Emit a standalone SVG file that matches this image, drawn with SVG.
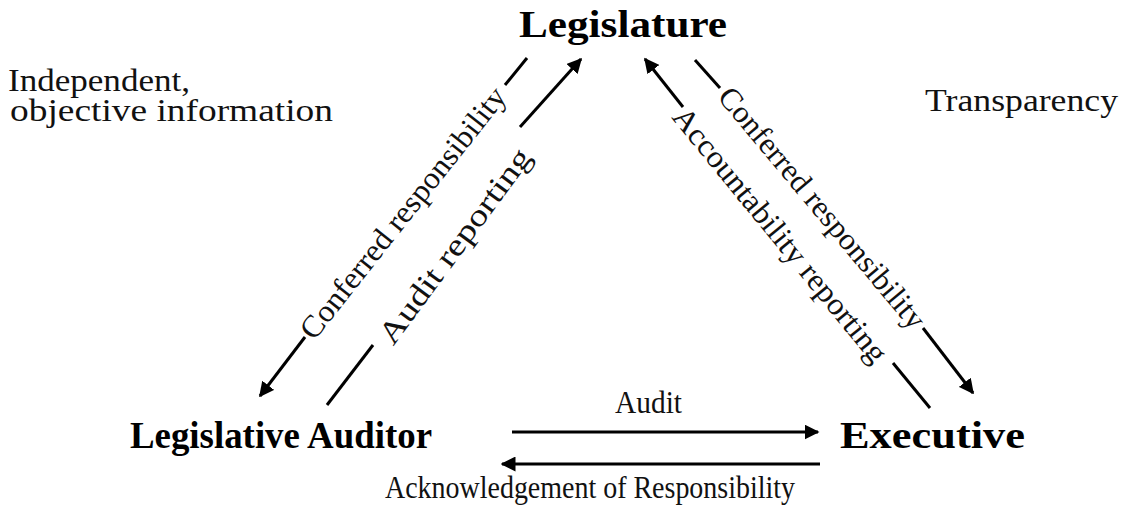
<svg xmlns="http://www.w3.org/2000/svg" width="1124" height="511" viewBox="0 0 1124 511">
<style>
.t{font-family:"Liberation Serif","Times New Roman",serif;font-size:31px;fill:#111}
.b{font-family:"Liberation Serif","Times New Roman",serif;font-size:37px;font-weight:bold;fill:#000}
.ln{stroke:#000;stroke-width:3;fill:none}
</style>
<defs>
<marker id="ah" viewBox="0 0 10 10" refX="9" refY="5" markerWidth="5" markerHeight="5" orient="auto" markerUnits="strokeWidth">
<path d="M0,0 L10,5 L0,10 z" fill="#000"/>
</marker>
</defs>
<rect width="1124" height="511" fill="#fff"/>
<g id="legislature"><text class="b" x="519" y="37" textLength="208" lengthAdjust="spacingAndGlyphs">Legislature</text></g>
<g id="legislative-auditor"><text class="b" x="130" y="448" textLength="302" lengthAdjust="spacingAndGlyphs">Legislative Auditor</text></g>
<g id="executive"><text class="b" x="840" y="448" textLength="185" lengthAdjust="spacingAndGlyphs">Executive</text></g>
<g id="note-independent">
<text class="t" x="8" y="91" textLength="182" lengthAdjust="spacingAndGlyphs">Independent,</text>
<text class="t" x="10" y="121" textLength="323" lengthAdjust="spacingAndGlyphs">objective information</text>
</g>
<g id="note-transparency"><text class="t" x="925" y="111" textLength="193" lengthAdjust="spacingAndGlyphs">Transparency</text></g>
<g id="connectors">
<line class="ln" x1="527" y1="58" x2="505" y2="85"/>
<line class="ln" x1="305" y1="337" x2="260" y2="396" marker-end="url(#ah)"/>
<text class="t" transform="translate(403,213) rotate(-51.6)" x="0" y="10" text-anchor="middle" textLength="312" lengthAdjust="spacingAndGlyphs">Conferred responsibility</text>
<line class="ln" x1="327" y1="405" x2="373" y2="345"/>
<line class="ln" x1="520" y1="127" x2="581" y2="59" marker-end="url(#ah)"/>
<text class="t" transform="translate(455,246) rotate(-53.6)" x="0" y="10" text-anchor="middle" textLength="235" lengthAdjust="spacingAndGlyphs">Audit reporting</text>
<line class="ln" x1="930" y1="408" x2="893" y2="363"/>
<line class="ln" x1="683" y1="107" x2="645" y2="59" marker-end="url(#ah)"/>
<text class="t" transform="translate(780,235) rotate(50.7)" x="0" y="10" text-anchor="middle" textLength="320" lengthAdjust="spacingAndGlyphs">Accountability reporting</text>
<line class="ln" x1="695" y1="60" x2="720" y2="88"/>
<line class="ln" x1="923" y1="328" x2="973" y2="393" marker-end="url(#ah)"/>
<text class="t" transform="translate(822,208) rotate(50.1)" x="0" y="10" text-anchor="middle" textLength="305" lengthAdjust="spacingAndGlyphs">Conferred responsibility</text>
<line class="ln" x1="512" y1="432" x2="818" y2="432" marker-end="url(#ah)"/>
<text class="t" x="615" y="413" textLength="67" lengthAdjust="spacingAndGlyphs">Audit</text>
<line class="ln" x1="820" y1="464" x2="502" y2="464" marker-end="url(#ah)"/>
<text class="t" x="385" y="498" textLength="410" lengthAdjust="spacingAndGlyphs">Acknowledgement of Responsibility</text>
</g>
</svg>
